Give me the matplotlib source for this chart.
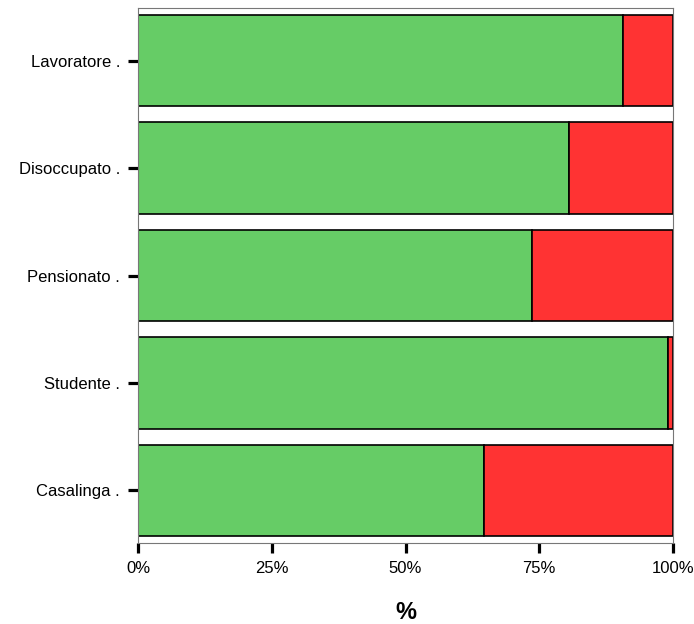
import numpy as np
import matplotlib.pyplot as plt
from matplotlib.ticker import FuncFormatter

plt.rcParams['font.family'] = ['Liberation Sans', 'DejaVu Sans']

# data (percent)
categories = ['Lavoratore .', 'Disoccupato .', 'Pensionato .', 'Studente .', 'Casalinga .']
pct_yes = [90.6, 80.6, 73.6, 99.0, 64.6]
pct_no = [100 - v for v in pct_yes]
x_ticks = [0, 25, 50, 75, 100]

green = '#66CC66'
red = '#FF3333'

fig = plt.figure(figsize=(6.94, 6.24), dpi=100)
ax = fig.add_axes([138/694, 1 - 543/624, 535/694, 535/624])

ypos = np.arange(len(categories))[::-1]
ax.barh(ypos, pct_yes, height=0.85, color=green, edgecolor='black', linewidth=1.2)
ax.barh(ypos, pct_no, left=pct_yes, height=0.85, color=red, edgecolor='black', linewidth=1.2)

ax.set_xlim(0, 100)
ax.set_ylim(-0.49, len(categories) - 1 + 0.49)
ax.set_yticks(ypos)
ax.set_yticklabels(categories)
ax.set_xticks(x_ticks)
ax.xaxis.set_major_formatter(FuncFormatter(lambda v, p: '{0:.0f}%'.format(v)))

for s in ax.spines.values():
    s.set_color('#777777')
    s.set_linewidth(0.8)

ax.tick_params(axis='both', length=7, width=2.3, color='black', labelsize=12)
ax.tick_params(axis='y', pad=6)
ax.tick_params(axis='x', pad=6)

ax.set_xlabel('%', fontsize=17, fontweight='bold', labelpad=18)

fig.savefig('out.png', dpi=100)
